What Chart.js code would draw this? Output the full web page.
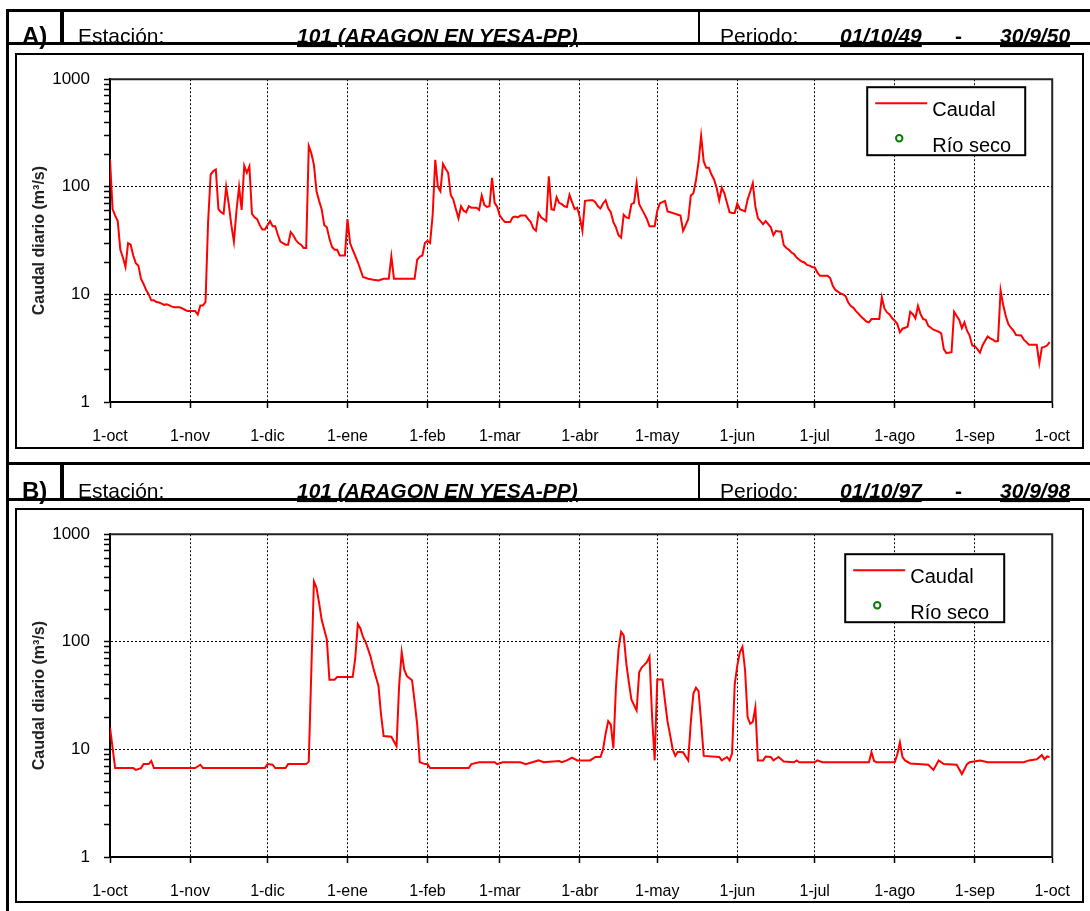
<!DOCTYPE html>
<html><head><meta charset="utf-8">
<script src="https://cdn.jsdelivr.net/npm/chart.js@4.4.1/dist/chart.umd.min.js"></script>
<style>
html,body{margin:0;padding:0;background:#fff;}
body{width:1090px;height:911px;position:relative;overflow:hidden;font-family:"Liberation Sans",Arial,sans-serif;}
canvas{position:absolute;}
#cA{left:17px;top:55px;}
#cB{left:17px;top:510px;}
svg{position:absolute;left:0;top:0;}
</style></head>
<body>
<canvas id="cA" width="1072" height="392"></canvas>
<canvas id="cB" width="1072" height="391"></canvas>
<svg width="1090" height="911" xmlns="http://www.w3.org/2000/svg" font-family="Liberation Sans, Arial, sans-serif">
  <g font-size="21" fill="#000">
    <text x="22" y="44" font-size="24" font-weight="bold">A)</text>
    <text x="78" y="43">Estación:</text>
    <text x="297" y="43" font-weight="bold" font-style="italic" text-decoration="underline">101 (ARAGON EN YESA-PP)</text>
    <text x="720" y="43">Periodo:</text>
    <text x="840" y="43" font-weight="bold" font-style="italic" text-decoration="underline">01/10/49</text>
    <text x="955" y="43" font-weight="bold">-</text>
    <text x="1000" y="43" font-weight="bold" font-style="italic" text-decoration="underline">30/9/50</text>

    <text x="22" y="499" font-size="24" font-weight="bold">B)</text>
    <text x="78" y="498">Estación:</text>
    <text x="297" y="498" font-weight="bold" font-style="italic" text-decoration="underline">101 (ARAGON EN YESA-PP)</text>
    <text x="720" y="498">Periodo:</text>
    <text x="840" y="498" font-weight="bold" font-style="italic" text-decoration="underline">01/10/97</text>
    <text x="955" y="498" font-weight="bold">-</text>
    <text x="1000" y="498" font-weight="bold" font-style="italic" text-decoration="underline">30/9/98</text>
  </g>
  <g fill="#000">
    <rect x="6" y="9" width="3" height="902"/>
    <rect x="6" y="9" width="1084" height="3"/>
    <rect x="6" y="42" width="1084" height="3"/>
    <rect x="60" y="9" width="4" height="36"/>
    <rect x="698" y="9" width="2" height="36"/>
    <rect x="6" y="462" width="1084" height="3"/>
    <rect x="6" y="498" width="1084" height="3"/>
    <rect x="60" y="462" width="4" height="39"/>
    <rect x="698" y="462" width="2" height="39"/>
  </g>
  <rect x="16" y="54" width="1067" height="394" fill="none" stroke="#000" stroke-width="2"/>
  <rect x="16" y="509" width="1067" height="393" fill="none" stroke="#000" stroke-width="2"/>
</svg>
<script>
const MONTH_TICKS = [0,31,61,92,123,151,182,212,243,273,304,335,365];
const MONTH_LABELS = ['1-oct','1-nov','1-dic','1-ene','1-feb','1-mar','1-abr','1-may','1-jun','1-jul','1-ago','1-sep','1-oct'];
const Y_TICKS = [1,2,3,4,5,6,7,8,9,10,20,30,40,50,60,70,80,90,100,200,300,400,500,600,700,800,900,1000];
const Y_LABELED = [1,10,100,1000];
const SERIES_LABEL = 'Caudal';
const DRY_LABEL = 'Río seco';
const Y_TITLE = 'Caudal diario (m³/s)';

// Panel A: 01/10/49 - 30/9/50 (day index from 1-oct)
const DAYS_A = [0,1,2,3,4,5,6,7,8,9,10,11,12,13,14,15,16,17,18,19,20,21,22,23,24,25,27,28,29,30,33,34,35,36,37,38,39,40,41,42,43,44,45,46,47,48,49,50,51,52,53,54,55,56,57,58,59,60,61,62,63,64,65,66,67,68,69,70,71,72,73,74,75,76,77,78,79,80,81,82,83,84,85,86,87,88,89,91,92,93,94,96,98,100,102,104,106,108,109,110,118,119,120,121,122,123,124,125,126,127,128,129,130,131,132,133,134,135,136,137,138,139,140,142,143,144,145,146,147,148,149,150,151,152,153,155,156,157,158,159,161,162,163,164,165,166,167,168,169,170,171,172,173,174,175,176,177,178,179,180,181,182,183,184,186,187,188,189,190,191,192,193,194,195,196,197,198,199,200,201,202,203,204,205,206,207,208,209,211,212,213,214,215,216,218,219,220,221,222,223,224,225,226,227,228,229,230,231,232,233,234,235,236,237,238,239,240,241,242,243,244,246,247,248,249,250,251,252,253,254,255,256,257,258,259,260,261,262,263,264,265,266,267,268,269,270,271,272,273,274,275,278,279,280,281,282,283,284,285,286,287,288,289,290,291,292,293,294,295,298,299,300,301,302,303,304,305,306,307,308,309,310,311,312,313,314,315,316,317,318,319,320,321,322,323,324,326,327,328,329,330,331,332,333,334,335,336,337,338,339,340,341,342,343,344,345,346,347,348,349,350,351,353,354,355,356,359,360,361,362,363,364];
const CAUDAL_A = [180,62,54,48,26,22,18,30,29,23,19.5,18.5,14,12.5,11,10,8.8,8.8,8.5,8.4,8.2,8.0,8.1,7.9,7.7,7.6,7.6,7.4,7.2,7.0,7.0,6.5,7.9,7.9,8.5,47,130,140,145,62,58,56,100,69,44,31,60,100,61,157,135,155,56,52,50,44,40,40,44,48,43,43,36,31,30,29,29,38,35.5,32,30,29,27,27,240,205,160,91,74,62,44,42,33,27.6,26,26,23,23,50,30,26,20,14.5,14,13.7,13.5,14,14,22.5,14,14,21,22.4,23,30,31.5,30,55,178,100,91,163,147,135,84,76,62,51,66,60,58,66,64,64,61,83,68,65,66,121,71,65,54,50,47,47,52,53,52,54,54,50,47,41,39,57,52,50,48,125,62,61,80,71,69,66,65,84,72,62,64,52,39,74,75,75,72,66,63,70,75,63,58,47,42,35.5,33.7,55,52,51,69,71,108,69,62,56,50,43,43,60,70,72,74,59,57,56,55,54,39,44,50,83,87,115,170,296,172,150,150,130,117,98,75,98,87,71,58,57,57,70,62,59,76,90,108,66,51,48,45,48,45,42,35.5,39,38.5,38.5,28.7,27,26,24.5,23.7,22,21,20.2,19.8,18.8,18.5,18,17.8,16,14.9,14.9,14.2,12,11,10.6,10.2,10,9.6,8.4,7.8,7.5,7.0,6.6,6.2,5.9,5.6,5.5,5.9,5.9,9.4,7.4,6.8,6.5,6.0,5.7,5.3,4.45,4.8,4.9,5.0,6.9,6.55,6.0,7.8,6.55,5.9,5.8,5.1,4.9,4.7,4.6,4.5,4.35,3.1,2.85,2.9,6.9,6.3,5.8,4.85,5.5,4.6,4.15,3.35,3.3,3.1,2.87,3.35,3.7,4.06,3.9,3.8,3.65,3.7,10.9,8,6.3,5.3,4.9,4.6,4.2,4.15,3.8,3.6,3.4,3.4,2.3,3.2,3.25,3.35,3.6];

// Panel B: 01/10/97 - 30/9/98
const DAYS_B = [0,2,9,10,12,13,15,16,17,33,35,36,60,61,63,64,68,69,76,77,78,79,80,81,82,83,84,85,87,88,94,95,96,97,98,99,100,101,102,103,104,105,106,109,111,112,113,114,115,117,118,119,120,122,123,124,139,140,143,149,150,152,159,161,166,168,174,175,177,179,181,186,188,190,191,192,193,194,195,196,197,198,199,200,201,202,204,205,206,207,208,209,210,211,212,214,215,216,217,218,219,220,222,224,225,226,227,228,229,230,236,237,239,240,241,242,243,244,245,246,247,248,249,250,251,253,254,256,257,259,261,265,266,267,273,274,276,294,295,296,297,304,305,306,307,308,310,317,319,321,323,328,330,332,333,337,338,340,354,356,359,361,362,363,364];
const CAUDAL_B = [16,6.7,6.7,6.45,6.7,7.3,7.3,7.8,6.7,6.7,7.2,6.7,6.7,7.3,7.2,6.7,6.7,7.3,7.3,7.7,55,363,317,230,160,130,105,44.5,44.5,47,47,70,146,133,111,100,85,72,57,47,39,21,13.3,13.1,10.7,39,80,55,48,44,28,17,7.6,7.3,7.3,6.7,6.7,7.3,7.6,7.6,7.3,7.6,7.6,7.3,7.9,7.6,7.8,7.6,7.9,8.4,7.9,7.9,8.5,8.5,10,14,18.3,17,10.2,38,85,124,115,63,42,29,23,52,58,61,65,73,20,7.9,44.6,44.6,28,18,13.5,10,8.7,9.5,9.4,7.9,18,33,37.4,34.8,18,8.7,8.5,7.9,8.5,7.9,9.2,40,60,80,90,55,20,17.3,18,24.5,7.9,7.9,8.6,8.5,7.9,8.5,7.7,7.6,7.9,7.6,7.6,7.9,7.6,7.6,9.4,7.8,7.6,7.6,9,11.6,8.5,7.9,7.4,7.2,6.45,7.9,7.3,7.2,5.9,7.3,7.6,7.9,7.8,7.6,7.6,7.9,8.1,8.85,8.1,8.6,8.5];

const FONT = '"Liberation Sans", Arial, sans-serif';
Chart.defaults.font.family = FONT;
Chart.defaults.color = '#000';

const framePlugin = {
  id: 'frame',
  afterDatasetsDraw(chart) {
    const {ctx, chartArea: a} = chart;
    ctx.save();
    ctx.strokeStyle = '#222';
    ctx.lineWidth = 2;
    ctx.beginPath();
    ctx.moveTo(a.left, a.top); ctx.lineTo(a.right, a.top); ctx.lineTo(a.right, a.bottom);
    ctx.stroke();
    ctx.restore();
  }
};

const legendPlugin = {
  id: 'boxLegend',
  afterDraw(chart, args, opts) {
    const {ctx, chartArea: a} = chart;
    const x0 = a.right - opts.offsetRight, y0 = a.top + opts.offsetTop;
    const w = opts.width, h = 68;
    const ds = chart.data.datasets;
    ctx.save();
    ctx.fillStyle = '#fff'; ctx.fillRect(x0, y0, w, h);
    ctx.lineWidth = 2; ctx.strokeStyle = '#000'; ctx.strokeRect(x0, y0, w, h);
    ctx.strokeStyle = ds[0].borderColor; ctx.lineWidth = 2;
    ctx.beginPath(); ctx.moveTo(x0 + 8, y0 + 16); ctx.lineTo(x0 + 60, y0 + 16); ctx.stroke();
    ctx.fillStyle = '#000'; ctx.font = '20px ' + FONT; ctx.textBaseline = 'middle'; ctx.textAlign = 'left';
    ctx.fillText(ds[0].label, x0 + 65, y0 + 23);
    ctx.strokeStyle = ds[1].borderColor; ctx.lineWidth = 2;
    ctx.beginPath(); ctx.arc(x0 + 32, y0 + 51, 3.2, 0, 2 * Math.PI); ctx.stroke();
    ctx.fillText(ds[1].label, x0 + 65, y0 + 59);
    ctx.restore();
  }
};

function makeChart(id, days, values, xHeight, padTop, legendOpts) {
  return new Chart(document.getElementById(id), {
    type: 'line',
    data: {
      datasets: [
        { label: SERIES_LABEL, data: days.map((d, i) => ({x: d, y: values[i]})),
          borderColor: '#ff0000', borderWidth: 2, pointRadius: 0, tension: 0, fill: false },
        { label: DRY_LABEL, data: [], showLine: false, pointRadius: 3.2,
          borderColor: '#008000', backgroundColor: 'rgba(0,0,0,0)', borderWidth: 2 }
      ]
    },
    options: {
      responsive: false, animation: false, devicePixelRatio: 1,
      layout: { padding: { left: 0, right: 0, top: padTop, bottom: 0 } },
      plugins: { legend: { display: false }, tooltip: { enabled: false }, boxLegend: legendOpts },
      scales: {
        x: {
          type: 'linear', min: 0, max: 365,
          afterBuildTicks: s => { s.ticks = MONTH_TICKS.map(v => ({value: v})); },
          afterFit: s => { s.height = xHeight; },
          ticks: { autoSkip: false, maxRotation: 0, padding: 19, font: { size: 16 }, color: '#000',
            callback: (v, i) => MONTH_LABELS[i] },
          grid: { color: c => (c.tick && (c.tick.value === 0 || c.tick.value === 365)) ? 'rgba(0,0,0,0)' : '#000',
            lineWidth: 1, tickLength: 6, tickColor: '#000', tickWidth: 1.5 },
          border: { display: true, color: '#000', width: 2, dash: [2, 2] }
        },
        y: {
          type: 'logarithmic', min: 1, max: 1000,
          afterBuildTicks: s => { s.ticks = Y_TICKS.map(v => ({value: v})); },
          afterFit: s => { s.width = 93; },
          ticks: { autoSkip: false, padding: 14, font: { size: 17 }, color: '#000',
            callback: v => Y_LABELED.includes(v) ? String(v) : '' },
          grid: { color: c => (c.tick && (c.tick.value === 10 || c.tick.value === 100)) ? '#000' : 'rgba(0,0,0,0)',
            lineWidth: 1, tickLength: 6, tickColor: '#000', tickWidth: 1.5 },
          border: { display: true, color: '#000', width: 2, dash: [2, 2] },
          title: { display: true, text: Y_TITLE, color: '#222', font: { size: 16, weight: 'bold' }, padding: { top: 13, bottom: 0 } }
        }
      }
    },
    plugins: [framePlugin, legendPlugin]
  });
}

makeChart('cA', DAYS_A, CAUDAL_A, 45, 20, { offsetRight: 185, offsetTop: 8, width: 158 });
makeChart('cB', DAYS_B, CAUDAL_B, 44, 19, { offsetRight: 207, offsetTop: 20, width: 159 });
</script>
</body></html>
